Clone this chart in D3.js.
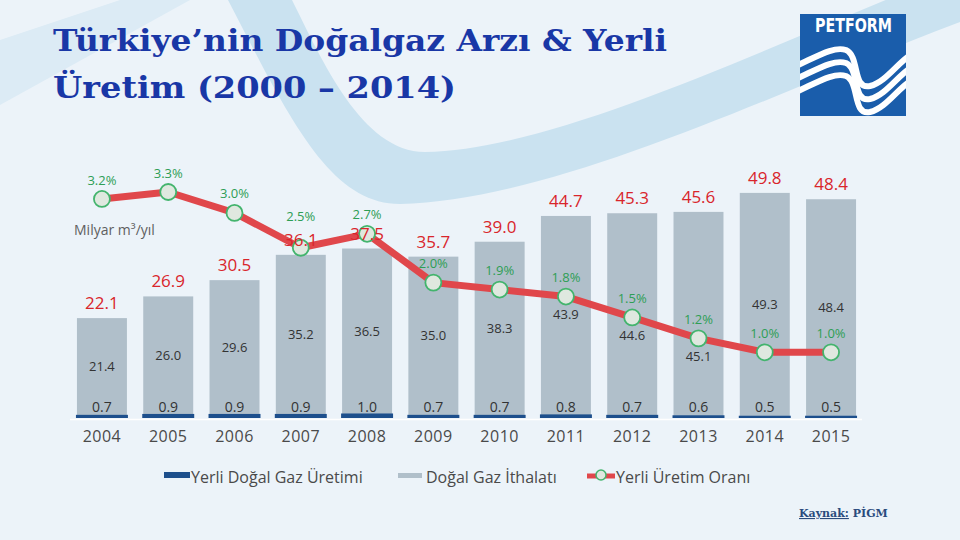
<!DOCTYPE html>
<html><head><meta charset="utf-8">
<script src="https://cdn.jsdelivr.net/npm/d3@7"></script>
<style>html,body{margin:0;padding:0;background:#ecf3f9;}svg{display:block;}</style>
</head><body>
<div id="chart"></div>
<script>
const years = ["2004","2005","2006","2007","2008","2009","2010","2011","2012","2013","2014","2015"];
const production = [0.7,0.9,0.9,0.9,1.0,0.7,0.7,0.8,0.7,0.6,0.5,0.5];
const imports = [21.4,26.0,29.6,35.2,36.5,35.0,38.3,43.9,44.6,45.1,49.3,48.4];
const totals = [22.1,26.9,30.5,36.1,37.5,35.7,39.0,44.7,45.3,45.6,49.8,48.4];
const shares = [3.2,3.3,3.0,2.5,2.7,2.0,1.9,1.8,1.5,1.2,1.0,1.0];
const legendLabels = ["Yerli Doğal Gaz Üretimi","Doğal Gaz İthalatı","Yerli Üretim Oranı"];
const titleLines = ["Türkiye’nin Doğalgaz Arzı & Yerli","Üretim (2000 – 2014)"];
const unitLabel = "Milyar m³/yıl";

const W = 960, H = 540;
const svg = d3.select("#chart").append("svg").attr("width", W).attr("height", H);
const font = "'Open Sans', 'DejaVu Sans', sans-serif";

// background
svg.append("rect").attr("width", W).attr("height", H).attr("fill", "#ecf3f9");
svg.append("path").attr("d", "M0,40 L120,0 L190,0 L0,105 Z").attr("fill", "#dcebf5");
svg.append("path")
  .attr("d", "M228,0 C290,120 330,204 400,204 C560,200 780,90 960,22 L960,-30 C780,40 560,150 425,152 C362,152 322,60 292,0 Z")
  .attr("fill", "#cae2f0");

// title
const title = svg.append("g").attr("fill", "#1937a6")
  .style("font-family", "'DejaVu Serif', 'Liberation Serif', serif").style("font-weight", "bold").style("font-size", "30px");
title.append("text").attr("x", 53).attr("y", 51).attr("textLength", 614).attr("lengthAdjust", "spacingAndGlyphs").text(titleLines[0]);
title.append("text").attr("x", 53).attr("y", 98).attr("textLength", 403).attr("lengthAdjust", "spacingAndGlyphs").text(titleLines[1]);

// logo
const logo = svg.append("g");
logo.append("clipPath").attr("id", "logoclip").append("rect").attr("x", 800).attr("y", 14).attr("width", 106).attr("height", 102);
logo.append("rect").attr("x", 800).attr("y", 14).attr("width", 106).attr("height", 102).attr("fill", "#1a5dab");
logo.append("text").attr("x", 815).attr("y", 32).attr("textLength", 77).attr("lengthAdjust", "spacingAndGlyphs")
  .attr("fill", "#fff").style("font-family", "'Liberation Sans Narrow','DejaVu Sans Condensed','Liberation Sans',sans-serif")
  .style("font-weight", "bold").style("font-size", "19px").text("PETFORM");
const waves = logo.append("g").attr("clip-path", "url(#logoclip)");
[0, 1, 2].forEach(k => {
  const o = k * 13;
  waves.append("path")
    .attr("d", `M796,${66 + o} C818,${56 + o} 834,${46 + o} 846,${50 + o} C860,${56 + o} 852,${90 + o} 870,${86 + o} C886,${82 + o} 898,${62 + o} 912,${54 + o}`)
    .attr("fill", "none").attr("stroke", "#fff").attr("stroke-width", 6);
});

// scales
const x = d3.scaleBand().domain(years).range([69, 864]).paddingInner(0.246).paddingOuter(0.12);
const y = d3.scaleLinear().domain([0, 50]).range([418, 192]);
const yP = d3.scaleLinear().domain([0, 3.3]).range([422, 192]);
const bw = x.bandwidth();

// baseline
svg.append("line").attr("x1", 70).attr("x2", 862).attr("y1", 419.5).attr("y2", 419.5).attr("stroke", "#ffffff").attr("stroke-width", 1.5);

// bars
svg.append("g").selectAll("rect").data(years).join("rect")
  .attr("x", d => x(d)).attr("width", bw)
  .attr("y", (d, i) => y(totals[i])).attr("height", (d, i) => y(0) - y(totals[i]))
  .attr("fill", "#b0bfca");
svg.append("g").selectAll("rect").data(years).join("rect")
  .attr("x", d => x(d) - 1).attr("width", bw + 2)
  .attr("y", (d, i) => y(production[i])).attr("height", (d, i) => y(0) - y(production[i]))
  .attr("fill", "#1d4f8c");

// x axis labels
const xAxis = d3.axisBottom(x).tickSize(0).tickPadding(0);
const gx = svg.append("g").attr("transform", "translate(0,431)").call(xAxis);
gx.select(".domain").remove();
gx.selectAll("text").attr("fill", "#4a4a4a").style("font-family", font).style("font-size", "16px").style("letter-spacing", "0.5px");

// production labels
svg.append("g").selectAll("text").data(years).join("text")
  .attr("x", d => x(d) + bw / 2).attr("y", 412).attr("text-anchor", "middle")
  .attr("fill", "#333").style("font-family", font).style("font-size", "14px")
  .text((d, i) => production[i].toFixed(1));

// import labels (centered, nudged below the line where they would collide)
svg.append("g").selectAll("text").data(years).join("text")
  .attr("x", d => x(d) + bw / 2)
  .attr("y", (d, i) => {
    const mid = (y(totals[i]) + y(production[i])) / 2;
    const p = yP(shares[i]);
    return Math.abs(mid - p) < 26 ? p + 18 : mid;
  })
  .attr("dy", "0.35em").attr("text-anchor", "middle")
  .attr("fill", "#333").style("font-family", font).style("font-size", "13px")
  .text((d, i) => imports[i].toFixed(1));

// unit label
svg.append("text").attr("x", 74).attr("y", 235).attr("fill", "#5f5f5f")
  .style("font-family", font).style("font-size", "14px").text(unitLabel);

// line
const line = d3.line().x((d, i) => x(years[i]) + bw / 2).y(d => yP(d));
svg.append("path").datum(shares).attr("d", line).attr("fill", "none")
  .attr("stroke", "#e0474b").attr("stroke-width", 7).attr("stroke-linejoin", "round");
svg.append("g").selectAll("circle").data(shares).join("circle")
  .attr("cx", (d, i) => x(years[i]) + bw / 2).attr("cy", d => yP(d)).attr("r", 8)
  .attr("fill", "#dfe8df").attr("stroke", "#43b46d").attr("stroke-width", 1.8);

// total labels (drawn over the line)
svg.append("g").selectAll("text").data(years).join("text")
  .attr("x", d => x(d) + bw / 2).attr("y", (d, i) => y(totals[i]) - 9).attr("text-anchor", "middle")
  .attr("fill", "#d9252b").style("font-family", font).style("font-size", "17px").style("font-weight", "500")
  .text((d, i) => totals[i].toFixed(1));

// share labels
svg.append("g").selectAll("text").data(shares).join("text")
  .attr("x", (d, i) => x(years[i]) + bw / 2)
  .attr("y", (d, i) => {
    const c = yP(d) - 19;
    const red = y(totals[i]) - 15;
    return Math.abs(c - red) < 18 ? red - 23 : c;
  })
  .attr("dy", "0.35em").attr("text-anchor", "middle")
  .attr("fill", "#2e9e55").style("font-family", font).style("font-size", "13px")
  .text(d => d.toFixed(1) + "%");

// legend
const lg = svg.append("g").style("font-family", font).style("font-size", "16px").attr("fill", "#4a4a4a");
lg.append("rect").attr("x", 164).attr("y", 472).attr("width", 26).attr("height", 6).attr("fill", "#1d4f8c");
lg.append("text").attr("x", 191).attr("y", 483).text(legendLabels[0]);
lg.append("rect").attr("x", 398).attr("y", 473).attr("width", 24).attr("height", 5).attr("fill", "#b0bfca");
lg.append("text").attr("x", 426).attr("y", 483).text(legendLabels[1]);
lg.append("line").attr("x1", 587).attr("x2", 615).attr("y1", 476).attr("y2", 476).attr("stroke", "#e0474b").attr("stroke-width", 5);
lg.append("circle").attr("cx", 601).attr("cy", 475).attr("r", 5).attr("fill", "#dfe8df").attr("stroke", "#43b46d").attr("stroke-width", 1.5);
lg.append("text").attr("x", 616).attr("y", 483).text(legendLabels[2]);

// source
const src = svg.append("text").attr("x", 799).attr("y", 517).attr("fill", "#2a4b7d")
  .style("font-family", "'DejaVu Serif','Liberation Serif',serif").style("font-size", "11px").style("font-weight", "bold");
src.append("tspan").style("text-decoration", "underline").text("Kaynak:");
src.append("tspan").text(" PİGM");
</script>
</body></html>
